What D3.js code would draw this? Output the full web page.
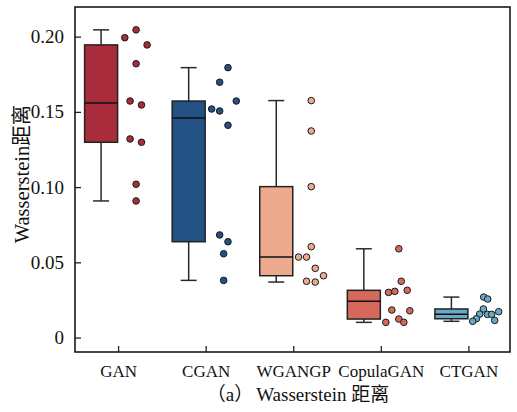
<!DOCTYPE html>
<html>
<head>
<meta charset="utf-8">
<script src="https://cdn.jsdelivr.net/npm/d3@7"></script>
<style>
  body { margin: 0; background: #fff; }
</style>
</head>
<body>
<script>
//======================================================================
// data (Wasserstein distance, 10 runs per model)
var models = ["GAN", "CGAN", "WGANGP", "CopulaGAN", "CTGAN"];

var ganVals       = [0.1993, 0.2045, 0.1945, 0.1820, 0.1572, 0.1546, 0.1320, 0.1298, 0.1019, 0.0908];
var cganVals      = [0.1794, 0.1697, 0.1572, 0.1519, 0.1506, 0.1411, 0.0682, 0.0637, 0.0557, 0.0380];
var wgangpVals    = [0.1575, 0.1373, 0.1003, 0.0604, 0.0535, 0.0535, 0.0460, 0.0411, 0.0374, 0.0369];
var copulaganVals = [0.0590, 0.0374, 0.0300, 0.0307, 0.0314, 0.0183, 0.0178, 0.0123, 0.0101, 0.0101];
var ctganVals     = [0.0269, 0.0256, 0.0190, 0.0156, 0.0154, 0.0154, 0.0172, 0.0125, 0.0114, 0.0108];

var yTicks      = [0, 0.05, 0.10, 0.15, 0.20];
var yTickLabels = ["0", "0.05", "0.10", "0.15", "0.20"];
var colors      = ["#a82c3c", "#235183", "#eeaa8e", "#d56a5c", "#6aa8c8"];

// swarm spread of the dots (layout, px from the swarm centre)
var swarmDx = [
	[-11.3, 0, 11, 0, -6, 5.4, -6, 5.4, 0, 0],
	[4.3, -4, 12.6, -12, -4, 4.3, -4, 4.3, 0, 0],
	[0, 0, 0, 0, -12.7, -4.7, 4, 12.3, -4.7, 4],
	[0, 2.4, -10.3, -4, 8.4, -7, 11, 0, -13, 5],
	[-2.7, 1.3, -3, -6.7, 1, 5.3, 12.3, -10, 8.3, -13.7]
];
var allVals = [ganVals, cganVals, wgangpVals, copulaganVals, ctganVals];
//----------------------------------------------------------------------
var W = 517, H = 412;
var m = {left: 75, right: 7, top: 7, bottom: 60};
var FONT = "Liberation Serif, DejaVu Serif, serif";
var CJK  = "Noto Sans CJK SC, sans-serif";

var v_Canvas = d3.select("body").append("svg")
					.attr("width", W)
					.attr("height", H)
					.attr("font-family", FONT);

var x = d3.scalePoint()
			.domain(models)
			.range([m.left + 1.5, W - m.right])
			.padding(0.475);

var y = d3.scaleLinear()
			.domain([-0.0096, 0.2197])
			.range([H - m.bottom, m.top]);

// box stats with Tukey hinges
function f_stats(arg_vals)
{
	var s = arg_vals.slice().sort(d3.ascending);
	var n = s.length;
	var lower = s.slice(0, Math.ceil(n/2));
	var upper = s.slice(Math.floor(n/2));
	var q1 = d3.median(lower), q3 = d3.median(upper), med = d3.median(s);
	var iqr = q3 - q1;
	var lo = d3.min(s.filter(function(v){return v >= q1 - 1.5*iqr;}));
	var hi = d3.max(s.filter(function(v){return v <= q3 + 1.5*iqr;}));
	return {q1: q1, q3: q3, med: med, lo: lo, hi: hi};
}

var boxW = 33, capW = 16, dotShift = 18;

models.forEach(function(name, i){
	var st = f_stats(allVals[i]);
	var cx = x(name) - boxW/2 - 0.5;
	var g = v_Canvas.append("g");

	g.append("line")
		.attr("x1", cx).attr("x2", cx)
		.attr("y1", y(st.hi)).attr("y2", y(st.lo))
		.attr("stroke", "#2a2a2a").attr("stroke-width", 1.5);
	[st.hi, st.lo].forEach(function(v){
		g.append("line")
			.attr("x1", cx - capW/2).attr("x2", cx + capW/2)
			.attr("y1", y(v)).attr("y2", y(v))
			.attr("stroke", "#2a2a2a").attr("stroke-width", 1.5);
	});
	g.append("rect")
		.attr("x", cx - boxW/2)
		.attr("y", y(st.q3))
		.attr("width", boxW)
		.attr("height", y(st.q1) - y(st.q3))
		.attr("fill", colors[i])
		.attr("stroke", "#222").attr("stroke-width", 1.5);
	g.append("line")
		.attr("x1", cx - boxW/2).attr("x2", cx + boxW/2)
		.attr("y1", y(st.med)).attr("y2", y(st.med))
		.attr("stroke", "#111").attr("stroke-width", 1.5);

	g.selectAll("circle")
		.data(allVals[i])
		.enter()
			.append("circle")
			.attr("cx", function(d, k){return x(name) + dotShift + swarmDx[i][k];})
			.attr("cy", function(d){return y(d);})
			.attr("r", 3.3)
			.attr("fill", colors[i])
			.attr("stroke", "#1a1a1a")
			.attr("stroke-width", 1);
});

// axes: ticks pointing inward
var yAxis = d3.axisLeft(y)
				.tickValues(yTicks)
				.tickFormat(function(d, i){return yTickLabels[i];})
				.tickSizeInner(-6).tickSizeOuter(0).tickPadding(11);
var gy = v_Canvas.append("g")
			.attr("transform", "translate(" + m.left + ",0)")
			.call(yAxis)
			.attr("font-family", FONT)
			.attr("font-size", 19);
gy.select(".domain").remove();
gy.selectAll("line").attr("stroke", "#222").attr("stroke-width", 1.3);
gy.selectAll("text").attr("fill", "#111");

var xAxis = d3.axisBottom(x).tickSizeInner(-6).tickSizeOuter(0).tickPadding(13);
var gx = v_Canvas.append("g")
			.attr("transform", "translate(0," + (H - m.bottom) + ")")
			.call(xAxis)
			.attr("font-family", FONT)
			.attr("font-size", 17);
gx.select(".domain").remove();
gx.selectAll("line").attr("stroke", "#222").attr("stroke-width", 1.3);
gx.selectAll("text").attr("fill", "#111");

// frame
v_Canvas.append("rect")
	.attr("x", m.left).attr("y", m.top)
	.attr("width", W - m.left - m.right)
	.attr("height", H - m.top - m.bottom)
	.attr("fill", "none")
	.attr("stroke", "#1a1a1a")
	.attr("stroke-width", 1.6);

var yl = v_Canvas.append("text")
	.attr("transform", "translate(29,174) rotate(-90)")
	.attr("text-anchor", "middle")
	.attr("font-size", 20.5)
	.attr("fill", "#111");
yl.append("tspan").text("Wasserstein");
yl.append("tspan").attr("font-family", CJK).text("距离");

var cap = v_Canvas.append("text")
	.attr("x", 298).attr("y", 401)
	.attr("text-anchor", "middle")
	.attr("font-size", 19)
	.attr("fill", "#111");
cap.append("tspan").attr("font-family", CJK).text("（");
cap.append("tspan").text("a");
cap.append("tspan").attr("font-family", CJK).text("）");
cap.append("tspan").attr("dx", 3).text("Wasserstein ");
cap.append("tspan").attr("font-family", CJK).text("距离");
//======================================================================
</script>
</body>
</html>
